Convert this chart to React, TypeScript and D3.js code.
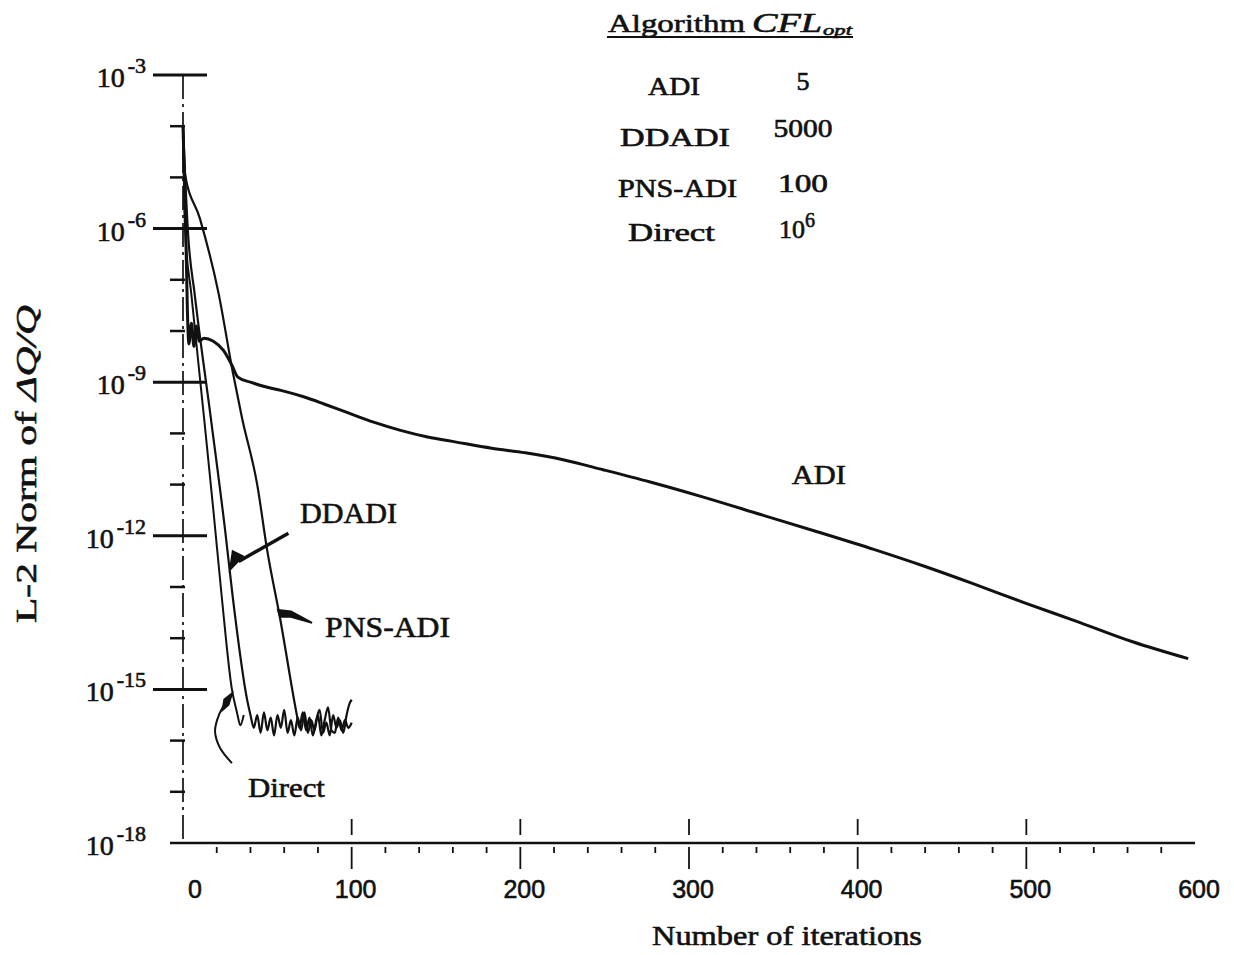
import React from "react";
import * as d3 from "d3";

// [iteration, log10 of L-2 norm of dQ/Q]
const adiData: [number, number][] = [
  [0, -4.0], [1.5, -5.8], [2.6, -7.6], [3.5, -8.25], [5, -7.85], [6.5, -8.3], [8, -7.9],
  [9.5, -8.2], [12.5, -8.14], [18, -8.2], [24, -8.38], [29, -8.67], [32.5, -8.9], [40, -9.0],
  [50, -9.1], [58, -9.16], [72, -9.29], [84, -9.43], [98, -9.6], [113, -9.78], [129, -9.94],
  [145, -10.07], [162, -10.17], [183, -10.29], [203, -10.38], [226, -10.52], [249, -10.71],
  [277, -10.95], [308, -11.24], [343, -11.59], [376, -11.92], [410, -12.27], [440, -12.6],
  [468, -12.93], [499, -13.31], [529, -13.66], [563, -14.07], [596, -14.4],
];
const directData: [number, number][] = [
  [0, -4.0], [1.2, -6.0], [5, -7.3], [12.5, -9.7], [18, -11.5], [23, -13.2], [29, -15.0],
  [32, -15.45], [34, -15.7], [36, -15.5],
];
const ddadiData: [number, number][] = [
  [0, -4.0], [3, -6.1], [7, -7.3], [16.5, -9.7], [25, -11.9], [29.5, -13.2], [38, -15.2],
  [40, -15.5], [42, -15.75], [44, -15.5], [46, -15.85], [48, -15.45], [50, -15.8], [52, -15.55],
  [54, -15.9], [56, -15.5], [58, -15.75], [60, -15.4], [62, -15.85], [64, -15.6], [66, -15.9],
  [68, -15.55], [70, -15.8], [72, -15.45], [74, -15.85], [76, -15.6], [78, -15.8], [80, -15.5],
  [82, -15.9], [84, -15.6], [86, -15.35], [88, -15.8], [90, -15.85], [92, -15.55], [94, -15.8],
  [96, -15.6], [98, -15.75], [100, -15.65],
];
const pnsData: [number, number][] = [
  [0, -4.0], [1, -4.9], [10, -5.8], [21, -7.25], [29.5, -8.8], [35, -9.7], [44, -11.0],
  [50, -12.3], [57.5, -13.6], [67.5, -15.5], [69, -15.75], [71, -15.45], [73, -15.8], [75, -15.55],
  [77, -15.9], [79, -15.6], [81, -15.4], [83, -15.85], [85, -15.65], [87, -15.9], [89, -15.5],
  [91, -15.75], [93, -15.6], [95, -15.85], [97, -15.5], [98.5, -15.3], [100, -15.2],
];

const xTickValues = [0, 100, 200, 300, 400, 500, 600];
const yMajorExps = [-3, -6, -9, -12, -15, -18];
const legendNames = ["ADI", "DDADI", "PNS-ADI", "Direct"];
const legendCfl = ["5", "5000", "100", "10^6"];

const serif = "'Liberation Serif', 'DejaVu Serif', serif";
const sans = "'Liberation Sans', Arial, sans-serif";
const ink = "#111";

export default function App() {
  const x = d3.scaleLinear().domain([0, 600]).range([183, 1195]);
  const y = d3.scaleLog().domain([1e-18, 1e-3]).range([843, 75]);
  const py = (e: number) => y(Math.pow(10, e));
  const line = d3.line<[number, number]>()
    .x(d => x(d[0]))
    .y(d => py(d[1]))
    .curve(d3.curveMonotoneX);

  const x0 = x(0);
  const yBot = py(-18);
  const minorY = d3.range(-4, -18, -1).filter(e => e % 3 !== 0);
  const minorX = d3.range(20, 600, 20).filter(v => v % 100 !== 0);

  // legend layout (left column, value column)
  const rowBase = [95, 146, 197, 241];
  const nameLen = [52, 110, 119, 87];
  const nameX = [648, 620, 618, 628];
  const cflBase = [90, 137, 192, 238];
  const cflLen = [13, 59, 50, 34];

  // Direct bracket, in data coordinates
  const bracket: [number, number][] = [
    [29, -15.11], [23.7, -15.34], [20.2, -15.6], [19, -15.83], [21.9, -16.14], [29, -16.44],
  ];
  const bracketLine = d3.line<[number, number]>()
    .x(d => x(d[0])).y(d => py(d[1])).curve(d3.curveCatmullRom);

  const txt = { stroke: ink, strokeWidth: 0.6 };

  return (
    <svg width={1234} height={955} style={{ position: "absolute", left: 0, top: 0, background: "#fff" }}
      fontFamily={serif} fill={ink}>
      <rect width={1234} height={955} fill="#fff" />

      {/* y axis */}
      <line x1={x0} x2={x0} y1={py(-3)} y2={yBot} stroke={ink} strokeWidth={1.7}
        strokeDasharray="24 5 3 5" />
      {yMajorExps.filter(e => e > -18).map(e => (
        <line key={e} x1={x0 - 30} x2={x0 + 24} y1={py(e)} y2={py(e)} stroke={ink} strokeWidth={3} />
      ))}
      {minorY.map(e => (
        <line key={e} x1={x0 - 13} x2={x0 + 2} y1={py(e)} y2={py(e)} stroke={ink} strokeWidth={2.5} />
      ))}
      <g {...txt}>
        {yMajorExps.map(e => (
          <text key={e} x={146} y={py(e) + 12} textAnchor="end" fontSize={28}>
            10<tspan fontSize={22} dy={-14} dx={3}>{"-" + Math.abs(e)}</tspan>
          </text>
        ))}
      </g>

      {/* x axis */}
      <line x1={170} x2={x(600)} y1={yBot} y2={yBot} stroke={ink} strokeWidth={2.6} />
      {xTickValues.filter(v => v > 0 && v < 600).map(v => (
        <g key={v}>
          <line x1={x(v)} x2={x(v)} y1={yBot - 24} y2={yBot - 8} stroke={ink} strokeWidth={1.8} />
          <line x1={x(v)} x2={x(v)} y1={yBot + 4} y2={yBot + 26} stroke={ink} strokeWidth={1.8} />
        </g>
      ))}
      {minorX.map(v => (
        <line key={v} x1={x(v)} x2={x(v)} y1={yBot + 4} y2={yBot + 10} stroke={ink} strokeWidth={1.8} />
      ))}
      <g {...txt}>
        {xTickValues.map(v => (
          <text key={v} x={x(v) + (v === 0 ? 12 : 4)} y={898} textAnchor="middle" fontSize={25}
            fontFamily={sans}>{v}</text>
        ))}

        {/* axis titles */}
        <text x={787} y={945} textAnchor="middle" fontSize={28} textLength={270}
          lengthAdjust="spacingAndGlyphs">Number of iterations</text>
        <text transform="translate(36,464) rotate(-90)" textAnchor="middle" fontSize={29}
          textLength={318} lengthAdjust="spacingAndGlyphs">
          L-2 Norm of <tspan fontStyle="italic">ΔQ/Q</tspan>
        </text>
      </g>

      {/* curves */}
      <path d={line(adiData) || ""} fill="none" stroke={ink} strokeWidth={3} />
      <path d={line(directData) || ""} fill="none" stroke={ink} strokeWidth={2} />
      <path d={line(ddadiData) || ""} fill="none" stroke={ink} strokeWidth={2.2} />
      <path d={line(pnsData) || ""} fill="none" stroke={ink} strokeWidth={2.2} />

      {/* annotations */}
      <line x1={x(62.5)} y1={py(-11.95)} x2={x(33)} y2={py(-12.5)} stroke={ink} strokeWidth={3.5} />
      <path d={`M${x(27.9)},${py(-12.66)} L${x(29.5)},${py(-12.3)} L${x(35.5)},${py(-12.4)} Z`}
        stroke={ink} strokeWidth={2} />
      <path d={`M${x(56.3)},${py(-13.45)} L${x(64)},${py(-13.48)} L${x(76.5)},${py(-13.7)} L${x(64)},${py(-13.58)} L${x(57.5)},${py(-13.58)} Z`}
        stroke={ink} strokeWidth={2} />
      <path d={bracketLine(bracket) || ""} fill="none" stroke={ink} strokeWidth={2} />
      <path d={`M${x(29)},${py(-15.08)} L${x(24.5)},${py(-15.2)} L${x(23.5)},${py(-15.4)} L${x(27)},${py(-15.3)} Z`}
        stroke={ink} strokeWidth={2} />

      <g {...txt}>
        <text x={x(361)} y={py(-10.99)} fontSize={28} textLength={54} lengthAdjust="spacingAndGlyphs">ADI</text>
        <text x={x(69.4)} y={py(-11.75)} fontSize={29} textLength={97} lengthAdjust="spacingAndGlyphs">DDADI</text>
        <text x={x(84.2)} y={py(-13.98)} fontSize={29} textLength={125} lengthAdjust="spacingAndGlyphs">PNS-ADI</text>
        <text x={x(38.5)} y={py(-17.1)} fontSize={28} textLength={77} lengthAdjust="spacingAndGlyphs">Direct</text>

        {/* legend table */}
        <text x={608} y={32} fontSize={26} textLength={137} lengthAdjust="spacingAndGlyphs">Algorithm</text>
        <text x={752} y={32} fontSize={27} fontStyle="italic" textLength={70} lengthAdjust="spacingAndGlyphs">CFL</text>
        <text x={823} y={35} fontSize={15} fontStyle="italic" textLength={29} lengthAdjust="spacingAndGlyphs">opt</text>
        {legendNames.map((n, i) => (
          <text key={n} x={nameX[i]} y={rowBase[i]} fontSize={25} textLength={nameLen[i]}
            lengthAdjust="spacingAndGlyphs">{n}</text>
        ))}
        {legendCfl.map((c, i) => {
          const [base, sup] = c.split("^");
          return (
            <text key={c} x={sup ? 797 : 803} y={cflBase[i]} fontSize={25} textAnchor="middle">
              <tspan textLength={sup ? 26 : cflLen[i]} lengthAdjust="spacingAndGlyphs">{base}</tspan>
              {sup && <tspan fontSize={20} dy={-11}>{sup}</tspan>}
            </text>
          );
        })}
      </g>
      <line x1={607} x2={853} y1={37} y2={37} stroke={ink} strokeWidth={2} />
    </svg>
  );
}
